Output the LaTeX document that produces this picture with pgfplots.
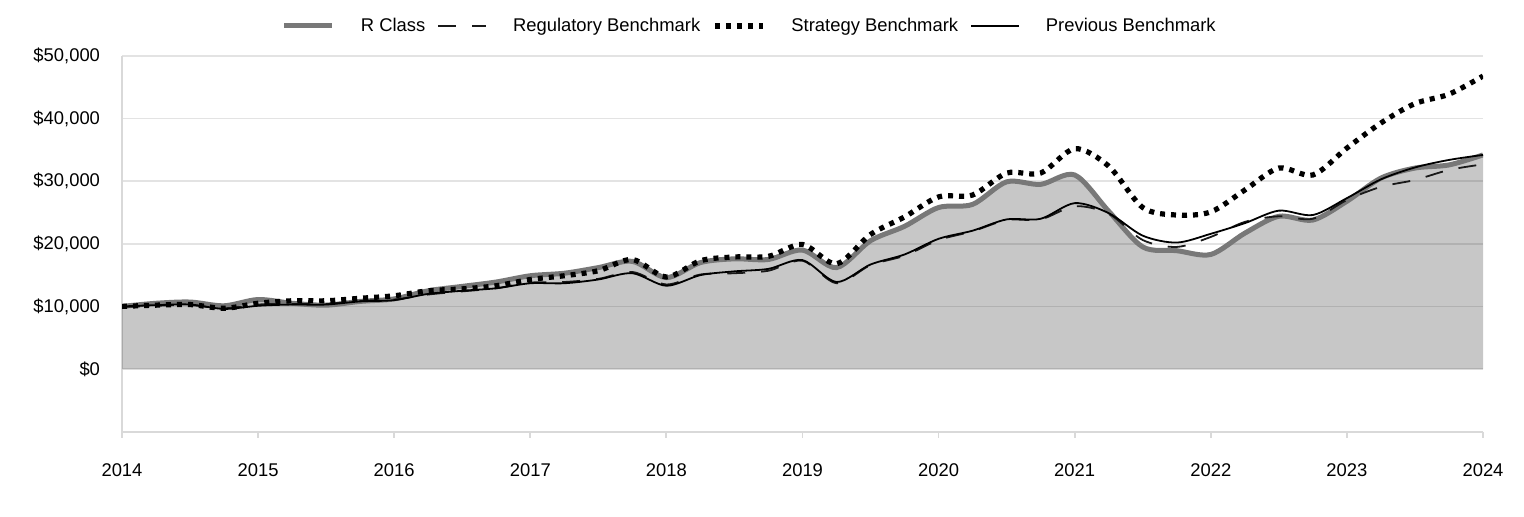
\documentclass[border=0pt]{standalone}
\usepackage{fontspec}
\setmainfont{Liberation Sans}
\usepackage{pgfplots}
\usepackage{pgfplotstable}
\pgfplotsset{compat=1.18}
\usepgfplotslibrary{fillbetween}

\definecolor{rgray}{HTML}{787878}
\definecolor{gridc}{HTML}{E3E3E3}
\definecolor{axc}{HTML}{D9D9D9}

\pgfplotstableread{
x       r     reg   str   prev
2014.00 10000 9900  10000 10000
2014.25 10500 10100 10200 10200
2014.50 10700 10200 10300 10300
2014.75 10100 9700  9700  9600
2015.00 11100 10300 10500 10100
2015.25 10500 10400 10900 10300
2015.50 10200 10400 10900 10300
2015.75 10800 10900 11300 10800
2016.00 11200 11100 11700 11000
2016.25 12500 11900 12500 12000
2016.50 13200 12400 12800 12500
2016.75 13900 12900 13300 12900
2017.00 14900 13800 14300 13700
2017.25 15300 13900 14900 13700
2017.50 16200 14400 15700 14300
2017.75 17200 15500 17500 15300
2018.00 14600 13500 14700 13300
2018.25 17000 15100 17300 15000
2018.50 17600 15300 17900 15600
2018.75 17500 15700 18000 16000
2019.00 19000 17300 19900 17400
2019.25 16200 13700 16800 13900
2019.50 20500 16600 21500 16700
2019.75 22800 18100 24300 18300
2020.00 25800 20600 27500 20800
2020.25 26300 22000 27800 22100
2020.50 29900 23800 31300 23900
2020.75 29500 23900 31300 24000
2021.00 31000 26000 35200 26500
2021.25 25200 24800 32400 24900
2021.50 19500 20600 25800 21300
2021.75 18900 19500 24600 20200
2022.00 18300 21100 25100 21600
2022.25 21700 23500 28600 23300
2022.50 24400 24400 32100 25300
2022.75 23800 24000 31000 24600
2023.00 26800 27000 35300 27300
2023.25 30500 29100 39300 30300
2023.50 32100 30200 42400 32200
2023.75 32600 31800 43900 33400
2024.00 34200 32700 46800 34200
}\data

\begin{document}
\begin{tikzpicture}
\begin{axis}[name=ax, scale only axis, width=680.5pt, height=187.8pt,
  xmin=2014, xmax=2024, ymin=-10000, ymax=50000,
  scaled y ticks=false, scaled x ticks=false,
  axis x line*=bottom, axis y line*=left,
  axis line style={axc, line width=0.9pt},
  xtick={2014,2015,...,2024},
  xticklabels={2014,2015,2016,2017,2018,2019,2020,2021,2022,2023,2024},
  x tick style={axc, line width=0.9pt},
  tick align=outside, major tick length=3pt,
  ytick={0,10000,20000,30000,40000,50000},
  yticklabels={{\$0},{\$10,000},{\$20,000},{\$30,000},{\$40,000},{\$50,000}},
  y tick style={draw=none},
  ymajorgrids, grid style={gridc, line width=0.75pt},
  tick label style={font=\fontsize{9.2}{11}\selectfont},
  xticklabel style={yshift=-9.5pt},
  yticklabel style={xshift=-4.5pt},
  legend columns=4,
  legend style={at={(0.462,1.08)}, anchor=center, draw=none, fill=none,
    font=\fontsize{9.2}{11}\selectfont,
    /tikz/every odd column/.append style={column sep=11pt},
    /tikz/every even column/.append style={column sep=4pt}},
  legend image code/.code={\draw[#1] (0pt,0pt) -- (24pt,0pt);},
]
\addplot[name path=zero, draw=none, forget plot] coordinates {(2014,0) (2024,0)};
\addplot[name path=rfill, draw=none, forget plot, smooth] table[x=x,y=r] {\data};
\addplot[fill=black, fill opacity=0.22, draw=none, forget plot] fill between[of=rfill and zero];

\addplot[rgray, line width=2.5pt, smooth] table[x=x,y=r] {\data};
\addlegendentry{R Class}
\addplot[black!90, line width=0.9pt, dash pattern=on 9pt off 8pt, smooth] table[x=x,y=reg] {\data};
\addlegendentry{Regulatory Benchmark}
\addplot[black, line width=2.6pt, dash pattern=on 2.5pt off 3pt, smooth] table[x=x,y=str] {\data};
\addlegendentry{Strategy Benchmark}
\addplot[black, line width=0.9pt, smooth] table[x=x,y=prev] {\data};
\addlegendentry{Previous Benchmark}
\end{axis}
\pgfresetboundingbox
\path[use as bounding box] (ax.south west) ++(-61pt,-42.2pt) rectangle ++(762pt,258pt);
\end{tikzpicture}
\end{document}
